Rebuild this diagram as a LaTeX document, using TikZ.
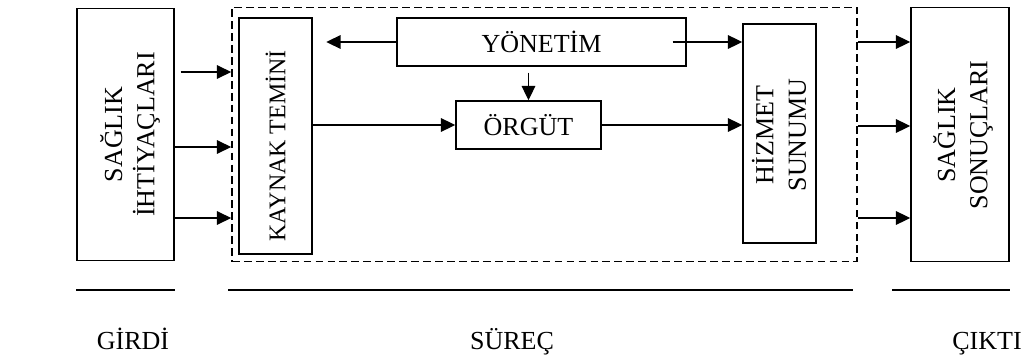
\documentclass[tikz,border=0pt]{standalone}
\usepackage{fontspec}
\setmainfont{Liberation Serif}
\usetikzlibrary{arrows.meta,positioning,calc}

\begin{document}
\begin{tikzpicture}[
    x=0.025cm, y=-0.025cm,
    box/.style={rectangle, draw, line width=1pt, inner sep=0pt},
    vtext/.style={rotate=90, align=center, font=\fontsize{18.5}{23}\selectfont},
    htext/.style={font=\fontsize{18.5}{22}\selectfont},
    msg/.style={-{Triangle[length=3.6mm, width=3.4mm]}, line width=1pt},
    sep/.style={line width=1pt}
]
    \useasboundingbox (0,0) rectangle (1022,356);

    % Girdi
    \node[box, minimum width=2.425cm, minimum height=6.3cm] (needs) at (125.5,134.5) {};
    \node[vtext] (needstxt) at (130,134.5) {SAĞLIK\\İHTİYAÇLARI};

    % Süreç
    \node[box, dash pattern=on 5.5pt off 3pt, minimum width=15.625cm, minimum height=6.35cm] (process) at (544.5,134.5) {};
    \node[box, minimum width=1.825cm, minimum height=5.9cm] (kaynak) at (275.5,136) {};
    \node[vtext, font=\fontsize{17}{20}\selectfont] (kaynaktxt) at (275.5,146) {KAYNAK TEMİNİ};
    \node[box, htext, minimum width=7.225cm, minimum height=1.2cm] (yonetim) at (541.5,42) {YÖNETİM};
    \node[box, htext, minimum width=3.625cm, minimum height=1.2cm] (orgut) at (528.5,125) {ÖRGÜT};
    \node[box, minimum width=1.825cm, minimum height=5.475cm] (hizmet) at (779.5,133.5) {};
    \node[vtext] (hizmettxt) at (779,135) {HİZMET\\SUNUMU};

    % Çıktı
    \node[box, minimum width=2.45cm, minimum height=6.35cm] (results) at (960,134.5) {};
    \node[vtext] (resultstxt) at (963,135) {SAĞLIK\\SONUÇLARI};

    % Inputs
    \draw[msg] ($(needs.east |- 0,72)+(6,0)$) -- (process.west |- 0,72);
    \foreach \y in {147,218}
        \draw[msg] (needs.east |- 0,\y) -- (process.west |- 0,\y);

    % Inside
    \coordinate[left=1.75cm of yonetim.west] (ytip);
    \draw[msg] (yonetim.west) -- (ytip);
    \draw[msg] ($(orgut.north |- yonetim.south)+(0,6)$) -- (orgut.north);
    \draw[msg] (kaynak.east |- orgut.west) -- (orgut.west);
    \draw[msg] (orgut.east) -- (orgut.east -| hizmet.west);
    \draw[msg] ($(yonetim.east)+(-14,0)$) -- (hizmet.west |- yonetim.east);

    % Outputs
    \foreach \y in {42,126,218}
        \draw[msg] (process.east |- 0,\y) -- (results.west |- 0,\y);

    % Bottom rules and labels
    \draw[sep] (needs.west |- 0,290) -- (needs.east |- 0,290);
    \draw[sep] (228,290) -- (853,290);
    \draw[sep] (892,290) -- (1010,290);
    \node[htext, anchor=base] (girdi) at (133,349) {GİRDİ};
    \node[htext, anchor=base] (surec) at (512,349) {SÜREÇ};
    \node[htext, anchor=base] (cikti) at (987,349) {ÇIKTI};
\end{tikzpicture}
\end{document}
